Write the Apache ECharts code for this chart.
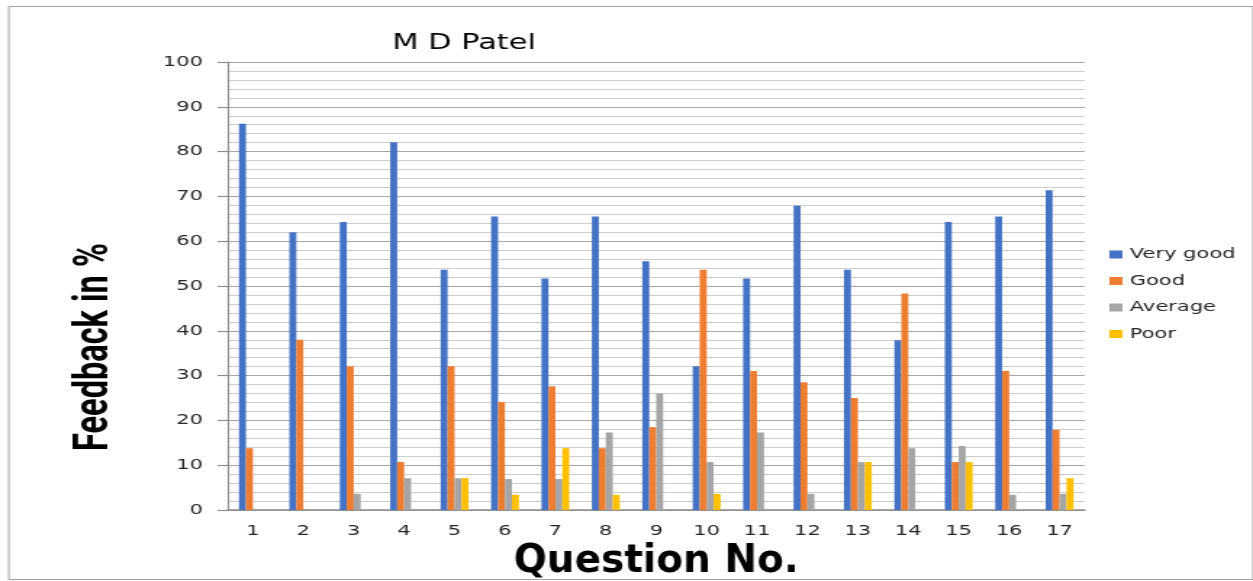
<!DOCTYPE html>
<html>
<head>
<meta charset="utf-8">
<script src="https://cdn.jsdelivr.net/npm/echarts@6/dist/echarts.min.js"></script>
<style>
  html, body { margin: 0; padding: 0; background: #fff; overflow: hidden; }
  /* 原图整体被横向拉伸，这里用同样的横向缩放还原 */
  #chart { width: 864px; height: 581px; transform: scaleX(1.4502); transform-origin: 0 0; }
</style>
</head>
<body>
<div id="chart"></div>
<script>
// 题号
const questions = ['1', '2', '3', '4', '5', '6', '7', '8', '9', '10', '11', '12', '13', '14', '15', '16', '17'];
// 各评价等级百分比
const veryGood = [86.2, 62.0, 64.3, 82.1, 53.6, 65.5, 51.7, 65.5, 55.5, 32.1, 51.7, 67.9, 53.6, 37.9, 64.3, 65.5, 71.4];
const good     = [13.8, 38.0, 32.1, 10.7, 32.1, 24.1, 27.6, 13.8, 18.5, 53.6, 31.0, 28.5, 25.0, 48.3, 10.7, 31.0, 17.9];
const average  = [0, 0, 3.6, 7.1, 7.1, 6.9, 6.9, 17.3, 26.0, 10.7, 17.3, 3.6, 10.7, 13.8, 14.3, 3.4, 3.6];
const poor     = [0, 0, 0, 0, 7.1, 3.4, 13.8, 3.4, 0, 3.6, 0, 0, 10.7, 0, 10.7, 0, 7.1];

const chart = echarts.init(document.getElementById('chart'));

function bar(name, data, color) {
    return {
        name, type: 'bar', data,
        barWidth: 4.8,
        barGap: '0%',
        itemStyle: { color }
    };
}

const labelFont = { fontFamily: 'DejaVu Sans', fontSize: 14.5, color: '#262626' };

const option = {
    animation: false,
    title: {
        text: 'M D Patel',
        left: 315, top: 28, textAlign: 'center',
        textStyle: { fontFamily: 'DejaVu Sans', fontSize: 21, fontWeight: 'normal', color: '#000' }
    },
    legend: {
        orient: 'vertical',
        left: 760, top: 242,
        itemWidth: 9, itemHeight: 8, itemGap: 11.5,
        icon: 'rect',
        textStyle: { fontFamily: 'DejaVu Sans', fontSize: 14.5, color: '#262626' }
    },
    grid: { left: 157, right: 116, top: 62, bottom: 71, outerBoundsMode: 'none' },
    xAxis: {
        type: 'category',
        data: questions,
        axisLine: { lineStyle: { color: '#8c8c8c', width: 1.5 } },
        axisTick: { show: false },
        axisLabel: Object.assign({ margin: 14 }, labelFont)
    },
    yAxis: {
        type: 'value',
        min: 0, max: 100, interval: 10,
        axisLine: { show: true, lineStyle: { color: '#8c8c8c', width: 1.2 } },
        axisTick: { show: true, length: 7, lineStyle: { color: '#8c8c8c', width: 1.2 } },
        axisLabel: Object.assign({ margin: 17 }, labelFont),
        splitLine: { lineStyle: { color: '#a6a6a6', width: 1.2 } },
        minorTick: { show: false, splitNumber: 5 },
        minorSplitLine: { show: true, lineStyle: { color: '#cdcdcd', width: 1.2 } }
    },
    graphic: [
        {
            type: 'rect', left: 3.5, top: 4, silent: true,
            shape: { width: 858, height: 573 },
            style: { fill: 'none', stroke: '#a0a0a0', lineWidth: 1 }
        },
        {
            // 纵轴标题
            type: 'text', x: 65.5, y: 347, rotation: Math.PI / 2,
            style: {
                text: 'Feedback in %',
                fontFamily: 'Roboto', fontWeight: 'bold', fontSize: 32.5, fill: '#000',
                align: 'center', verticalAlign: 'middle'
            }
        },
        {
            // 横轴标题（原图中未被拉伸，抵消容器的横向缩放）
            type: 'text', x: 452.4, y: 562, scaleX: 1 / 1.4502,
            style: {
                text: 'Question No.',
                fontFamily: 'DejaVu Sans', fontWeight: 'bold', fontSize: 39, fill: '#000',
                align: 'center', verticalAlign: 'middle'
            }
        }
    ],
    series: [
        bar('Very good', veryGood, '#4472C4'),
        bar('Good', good, '#ED7D31'),
        bar('Average', average, '#A5A5A5'),
        bar('Poor', poor, '#FFC000')
    ]
};

chart.setOption(option);
</script>
</body>
</html>
